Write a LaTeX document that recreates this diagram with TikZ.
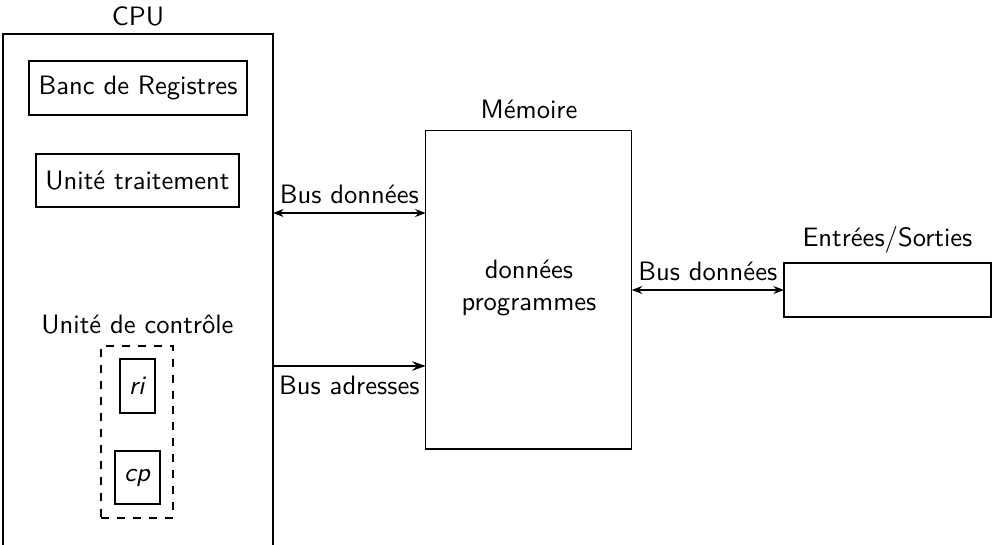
\documentclass[tikz,border=0pt]{standalone}
\usetikzlibrary{fit,arrows.meta}
\begin{document}
\begin{tikzpicture}[x=0.376pt,y=-0.376pt,font=\sffamily,
  boxstyle/.style={draw,inner sep=0pt,outer sep=0pt},
  dashbox/.style={draw,dashed,inner sep=0pt,outer sep=0pt},
  lbl/.style={anchor=base,inner sep=0pt},
  txt/.style={inner sep=0pt},
  databus/.style={{Stealth[length=4pt,width=3pt]}-{Stealth[length=4pt,width=3pt]}},
  addrbus/.style={thick,-{Stealth[length=5pt,width=3.5pt]}}]
\useasboundingbox (0,0) rectangle (992,545);
% CPU
\node[boxstyle,fit={(3,34) (273,546)}] (cpu) {};
\node[lbl] (cpulbl) at (138,25) {CPU};
\node[boxstyle,fit={(29,61) (247,115)}] (banc) {};
\node[txt] (banctxt) at (banc.center) {Banc de Registres};
\node[boxstyle,fit={(36,154) (239,207)}] (ut) {};
\node[txt] (uttxt) at (ut.center) {Unité traitement};
\node[lbl] (uclbl) at (137.5,333) {Unité de contrôle};
\node[dashbox,fit={(101,346) (173,518)}] (uc) {};
\node[boxstyle,fit={(120,359) (155,413)}] (ri) {};
\node[txt] (ritxt) at (ri.center) {\textit{ri}};
\node[boxstyle,fit={(115,451) (160,504)}] (cp) {};
\node[txt] (cptxt) at (cp.center) {\textit{cp}};
% Memoire
\node[boxstyle,fit={(425.7,130.7) (631.7,449)}] (mem) {};
\node[lbl] (memlbl) at (529,118) {Mémoire};
\node[align=center] (memtxt) at (529,288) {données\\programmes};
% E/S
\node[boxstyle,fit={(784,263) (991,317)}] (es) {};
\node[lbl] (eslbl) at (887.5,246) {Entrées/Sorties};
% buses
\coordinate (a1) at (cpu.east |- 0,213);
\coordinate (a2) at (mem.west |- 0,213);
\draw[databus] (a1) -- node[above] {Bus données} (a2);
\coordinate (b1) at (cpu.east |- 0,366);
\coordinate (b2) at (mem.west |- 0,366);
\draw[addrbus] (b1) -- node[below] {Bus adresses} (b2);
\coordinate (c1) at (mem.east |- 0,290);
\coordinate (c2) at (es.west |- 0,290);
\draw[databus] (c1) -- node[above] {Bus données} (c2);
\end{tikzpicture}
\end{document}
